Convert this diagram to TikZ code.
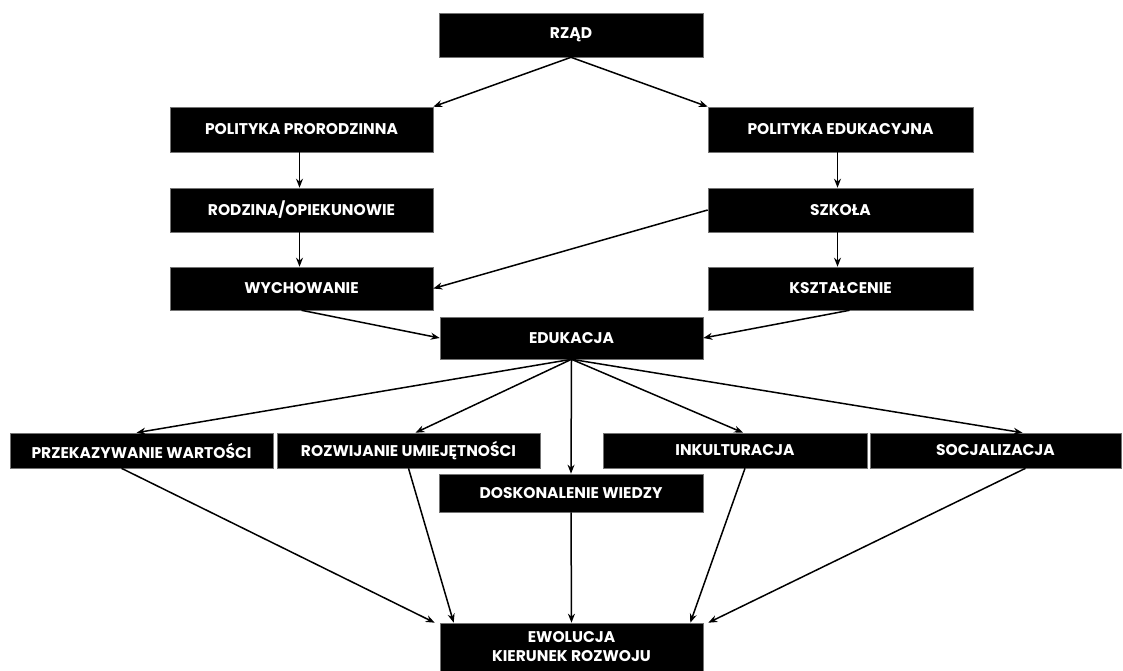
\documentclass[tikz,border=0pt]{standalone}
\usepackage{fontspec}
\setmainfont{Poppins}
\usetikzlibrary{arrows.meta,calc}
\begin{document}
\begin{tikzpicture}[x=1pt,y=-1pt,
  box/.style={fill=black,draw=black!55,line width=0.6pt,inner sep=0pt,
    text=white,font=\fontsize{15.5}{19}\selectfont\bfseries,align=center},
  arr/.style={line width=1.5pt,-{Stealth[length=9pt,width=7pt]}}]
\useasboundingbox[fill=white] (0,0) rectangle (1123,671);
\node[box,minimum width=264pt,minimum height=44pt] (rzad) at (571,35) {RZĄD};
\node[box,minimum width=263pt,minimum height=45pt] (pp) at (301.5,129.5) {POLITYKA PRORODZINNA};
\node[box,minimum width=265pt,minimum height=45pt] (pe) at (840.5,129.5) {POLITYKA EDUKACYJNA};
\node[box,minimum width=263pt,minimum height=44pt] (rod) at (301.5,210) {RODZINA/OPIEKUNOWIE};
\node[box,minimum width=265pt,minimum height=44pt] (szk) at (840.5,210) {SZKOŁA};
\node[box,minimum width=263pt,minimum height=43pt] (wych) at (301.5,288.5) {WYCHOWANIE};
\node[box,minimum width=265pt,minimum height=43pt] (ksz) at (840.5,288.5) {KSZTAŁCENIE};
\node[box,minimum width=263pt,minimum height=42pt] (edu) at (571.5,338) {EDUKACJA};
\node[box,minimum width=263pt,minimum height=35pt] (pw) at (141.5,450.5) {PRZEKAZYWANIE WARTOŚCI};
\node[box,minimum width=263pt,minimum height=35pt] (ru) at (408.5,450.5) {ROZWIJANIE UMIEJĘTNOŚCI};
\node[box,minimum width=264pt,minimum height=35pt] (ink) at (735,450.5) {INKULTURACJA};
\node[box,minimum width=251pt,minimum height=35pt] (soc) at (995.5,450.5) {SOCJALIZACJA};
\node[box,minimum width=264pt,minimum height=38pt] (dw) at (571,493) {DOSKONALENIE WIEDZY};
\node[box,minimum width=263pt,minimum height=48pt] (ew) at (571.5,647) {EWOLUCJA\\KIERUNEK ROZWOJU};
% arrows
\draw[arr] (rzad.south) -- (pp.north east);
\draw[arr] (rzad.south) -- (pe.north west);
\draw[arr] ($(pp.south)+(-2,0)$) -- ($(rod.north)+(-2,0)$);
\draw[arr] ($(rod.south)+(-2,0)$) -- ($(wych.north)+(-2,0)$);
\draw[arr] ($(pe.south)+(-3,0)$) -- ($(szk.north)+(-3,0)$);
\draw[arr] ($(szk.south)+(-3,0)$) -- ($(ksz.north)+(-3,0)$);
\draw[arr] (szk.west) -- (wych.east);
\draw[arr] (wych.south) -- (edu.west);
\draw[arr] ($(ksz.south)+(9,0)$) -- (edu.east);
\draw[arr] (edu.south) -- ($(pw.north)+(-5,0)$);
\draw[arr] (edu.south) -- ($(ru.north)+(7,0)$);
\draw[arr] (edu.south) -- (dw.north);
\draw[arr] (edu.south) -- ($(ink.north)+(8,0)$);
\draw[arr] (edu.south) -- ($(soc.north)+(27,0)$);
\draw[arr] ($(pw.south)+(-20,0)$) -- ($(ew.north west)+(-5,0)$);
\draw[arr] (ru.south) -- ($(ew.north west)+(14,0)$);
\draw[arr] (dw.south) -- (ew.north);
\draw[arr] ($(ink.south)+(10,0)$) -- ($(ew.north east)+(-13,0)$);
\draw[arr] ($(soc.south)+(30,0)$) -- ($(ew.north east)+(5,0)$);
\end{tikzpicture}
\end{document}
